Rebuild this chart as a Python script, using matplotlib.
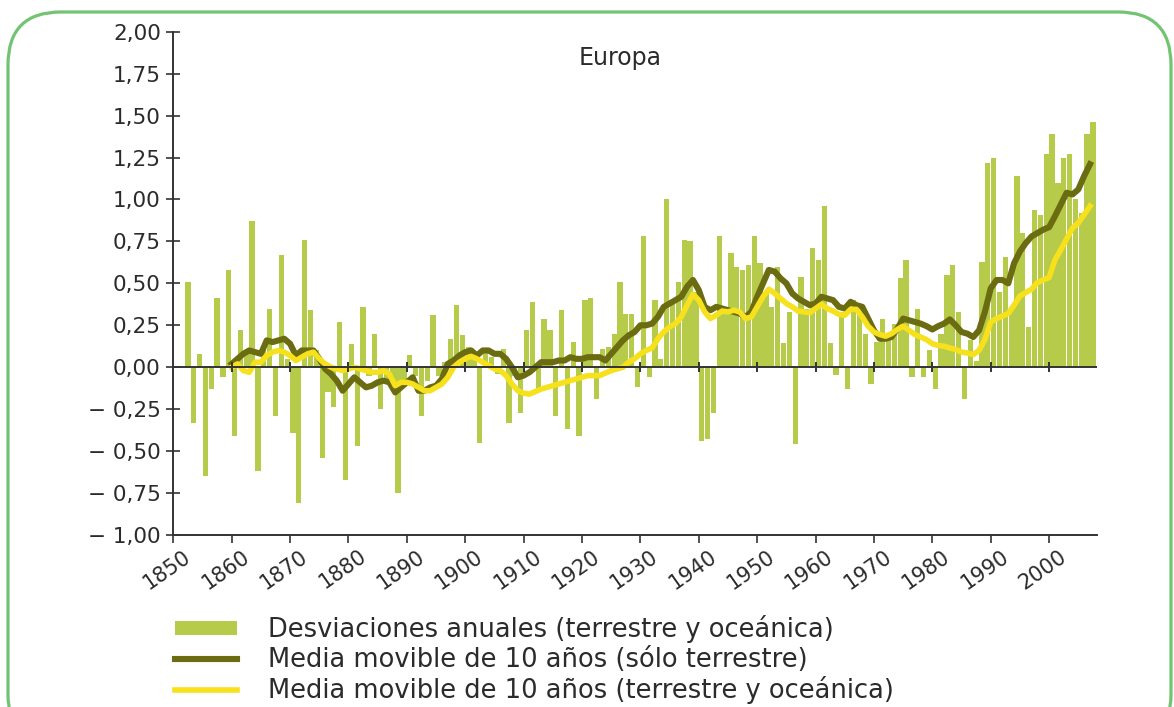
import numpy as np
import matplotlib
matplotlib.use("Agg")
import matplotlib.pyplot as plt
from matplotlib.patches import Patch, FancyBboxPatch
from matplotlib.lines import Line2D
from matplotlib.transforms import ScaledTranslation

# annual deviations (land + ocean), 1852-2007
bar_start = 1852
bar_values = [
    0.51, -0.33, 0.08, -0.65, -0.13, 0.41, -0.06, 0.58,                    # 1852-1859
    -0.41, 0.22, 0.08, 0.87, -0.62, 0.10, 0.35, -0.29, 0.67, 0.05,         # 1860s
    -0.39, -0.81, 0.76, 0.34, 0.10, -0.54, -0.15, -0.24, 0.27, -0.67,      # 1870s
    0.14, -0.47, 0.36, -0.05, 0.20, -0.25, -0.08, -0.12, -0.75, -0.10,     # 1880s
    0.07, -0.05, -0.29, -0.08, 0.31, -0.05, 0.03, 0.17, 0.37, 0.19,        # 1890s
    0.12, 0.05, -0.45, 0.10, 0.06, -0.04, 0.11, -0.33, -0.05, -0.27,       # 1900s
    0.22, 0.39, -0.13, 0.29, 0.22, -0.29, 0.34, -0.37, 0.15, -0.41,        # 1910s
    0.40, 0.41, -0.19, 0.11, 0.12, 0.20, 0.51, 0.32, 0.32, -0.12,          # 1920s
    0.78, -0.06, 0.40, 0.05, 1.00, 0.39, 0.51, 0.76, 0.75, 0.45,           # 1930s
    -0.44, -0.43, -0.27, 0.78, 0.35, 0.68, 0.60, 0.58, 0.61, 0.78,         # 1940s
    0.62, 0.45, 0.36, 0.60, 0.145, 0.33, -0.46, 0.54, 0.35, 0.71,          # 1950s
    0.64, 0.96, 0.145, -0.045, 0.33, -0.13, 0.40, 0.33, 0.20, -0.10,       # 1960s
    0.15, 0.29, 0.20, 0.26, 0.53, 0.64, -0.06, 0.35, -0.06, 0.10,          # 1970s
    -0.13, 0.20, 0.55, 0.61, 0.33, -0.19, 0.16, 0.04, 0.63, 1.22,          # 1980s
    1.25, 0.45, 0.66, 0.35, 1.14, 0.80, 0.24, 0.94, 0.91, 1.27,            # 1990s
    1.39, 1.10, 1.25, 1.27, 1.00, 0.92, 1.39, 1.46,                        # 2000-2007
]

# 10-year moving averages, 1860-2007
line_start = 1860
land_only = [
    0.02, 0.05, 0.08, 0.10, 0.09, 0.08, 0.16, 0.15, 0.16, 0.17,
    0.14, 0.07, 0.10, 0.10, 0.10, 0.05, -0.01, -0.04, -0.08, -0.14,
    -0.10, -0.06, -0.09, -0.12, -0.11, -0.09, -0.08, -0.09, -0.15, -0.12,
    -0.09, -0.06, -0.14, -0.14, -0.12, -0.11, -0.07, 0.02, 0.04, 0.07,
    0.09, 0.10, 0.07, 0.10, 0.10, 0.08, 0.08, 0.05, 0.00, -0.06,
    -0.05, -0.03, 0.00, 0.03, 0.03, 0.03, 0.04, 0.04, 0.06, 0.05,
    0.05, 0.06, 0.06, 0.06, 0.04, 0.08, 0.12, 0.16, 0.19, 0.21,
    0.25, 0.25, 0.26, 0.30, 0.36, 0.38, 0.40, 0.42, 0.48, 0.52,
    0.46, 0.36, 0.34, 0.36, 0.35, 0.34, 0.33, 0.32, 0.30, 0.33,
    0.42, 0.50, 0.58, 0.57, 0.53, 0.50, 0.44, 0.41, 0.39, 0.37,
    0.38, 0.42, 0.41, 0.40, 0.36, 0.35, 0.39, 0.37, 0.36, 0.29,
    0.22, 0.17, 0.17, 0.18, 0.23, 0.29, 0.28, 0.27, 0.26, 0.245,
    0.225, 0.245, 0.26, 0.285, 0.25, 0.21, 0.20, 0.18, 0.22, 0.33,
    0.47, 0.52, 0.52, 0.50, 0.62, 0.69, 0.74, 0.78, 0.80, 0.82,
    0.835, 0.90, 0.97, 1.04, 1.03, 1.06, 1.14, 1.21,
]
land_ocean = [
    0.00, 0.02, -0.02, -0.03, 0.03, 0.03, 0.07, 0.09, 0.10, 0.09,
    0.07, 0.04, 0.06, 0.08, 0.09, 0.05, 0.02, 0.00, -0.01, -0.02,
    -0.01, 0.00, -0.01, -0.02, -0.03, -0.03, -0.02, -0.04, -0.11, -0.09,
    -0.09, -0.10, -0.12, -0.14, -0.14, -0.12, -0.10, -0.06, 0.00, 0.03,
    0.05, 0.065, 0.05, 0.03, 0.01, -0.01, -0.02, -0.05, -0.10, -0.14,
    -0.155, -0.16, -0.145, -0.13, -0.12, -0.11, -0.10, -0.09, -0.08, -0.07,
    -0.06, -0.05, -0.05, -0.05, -0.035, -0.02, -0.01, 0.00, 0.03, 0.05,
    0.08, 0.10, 0.115, 0.17, 0.21, 0.24, 0.26, 0.30, 0.37, 0.435,
    0.40, 0.33, 0.29, 0.31, 0.335, 0.33, 0.34, 0.33, 0.29, 0.30,
    0.36, 0.42, 0.465, 0.44, 0.41, 0.38, 0.36, 0.335, 0.33, 0.325,
    0.35, 0.375, 0.35, 0.335, 0.315, 0.31, 0.345, 0.345, 0.30, 0.245,
    0.21, 0.195, 0.185, 0.20, 0.225, 0.245, 0.22, 0.195, 0.18, 0.165,
    0.14, 0.13, 0.125, 0.115, 0.105, 0.09, 0.085, 0.075, 0.10, 0.165,
    0.27, 0.29, 0.305, 0.32, 0.37, 0.425, 0.445, 0.465, 0.505, 0.52,
    0.535, 0.64, 0.70, 0.765, 0.83, 0.86, 0.91, 0.96,
]

decades = list(range(1850, 2001, 10))
y_ticks = [-1.0, -0.75, -0.5, -0.25, 0.0, 0.25, 0.5, 0.75, 1.0, 1.25, 1.5, 1.75, 2.0]
y_tick_labels = ['\u2212 1,00', '\u2212 0,75', '\u2212 0,50', '\u2212 0,25', '0,00',
                 '0,25', '0,50', '0,75', '1,00', '1,25', '1,50', '1,75', '2,00']
legend_labels = [
    'Desviaciones anuales (terrestre y oceánica)',
    'Media movible de 10 años (sólo terrestre)',
    'Media movible de 10 años (terrestre y oceánica)',
]

BAR_COLOR = '#b7cb4a'
DARK_COLOR = '#6b6b12'
YELLOW_COLOR = '#f7e01c'
AXIS_COLOR = '#333333'
TEXT_COLOR = '#2b2b2b'

W, H = 1174, 707
fig = plt.figure(figsize=(W / 100, H / 100), dpi=100)
fig.patch.set_facecolor('white')

# rounded green frame around the whole chart
frame = FancyBboxPatch(
    (8 / W, -40 / H), 1163 / W, (H - 12 + 40) / H,
    boxstyle='round,pad=0,rounding_size=0.045',
    transform=fig.transFigure, fill=False,
    edgecolor='#72c472', linewidth=2.3, mutation_aspect=W / H,
)
fig.patches.append(frame)

ax = fig.add_axes([173.3 / W, 1 - 535 / H, (1097 - 173.3) / W, (535 - 31.7) / H])

bar_years = np.arange(bar_start, bar_start + len(bar_values))
ax.bar(bar_years + 0.5, bar_values, width=0.9, color=BAR_COLOR, zorder=2)

line_years = np.arange(line_start, line_start + len(land_only))
ax.plot(line_years, land_only, color=DARK_COLOR, lw=4.4, zorder=3,
        solid_joinstyle='round')
ax.plot(line_years, land_ocean, color=YELLOW_COLOR, lw=4.0, zorder=4,
        solid_joinstyle='round')

# zero line with small decade marks
ax.axhline(0, color=AXIS_COLOR, lw=1.4, zorder=5)
ax.plot(decades[1:], [0] * len(decades[1:]), ls='none', marker='|',
        ms=7, mew=1.4, color=AXIS_COLOR, zorder=5)

ax.set_xlim(1850, 2008.2)
ax.set_ylim(-1.0, 2.0)
for side in ('top', 'right'):
    ax.spines[side].set_visible(False)
for side in ('left', 'bottom'):
    ax.spines[side].set_color(AXIS_COLOR)
    ax.spines[side].set_linewidth(1.4)

ax.set_yticks(y_ticks)
ax.set_yticklabels(y_tick_labels)
ax.tick_params(axis='y', direction='inout', length=10, width=1.2,
               color=AXIS_COLOR, labelsize=15.5, labelcolor=TEXT_COLOR, pad=4)

ax.set_xticks(decades)
ax.set_xticklabels([str(d) for d in decades])
ax.tick_params(axis='x', direction='out', length=6, width=1.2,
               color=AXIS_COLOR, labelsize=15, labelcolor=TEXT_COLOR, pad=2)
shift = ScaledTranslation(10 / 100, 0, fig.dpi_scale_trans)
for lbl in ax.get_xticklabels():
    lbl.set_rotation(35)
    lbl.set_ha('right')
    lbl.set_va('top')
    lbl.set_rotation_mode('anchor')
    lbl.set_transform(lbl.get_transform() + shift)

ax.text(0.484, 0.948, 'Europa', transform=ax.transAxes, ha='center', va='center',
        fontsize=17, color=TEXT_COLOR)

handles = [
    Patch(facecolor=BAR_COLOR, edgecolor='none'),
    Line2D([], [], color=DARK_COLOR, lw=4.4),
    Line2D([], [], color=YELLOW_COLOR, lw=4.0),
]
leg = fig.legend(handles, legend_labels, loc='upper left',
                 bbox_to_anchor=(165 / W, 1 - 605 / H), frameon=False,
                 fontsize=18.5, handlelength=2.4, handleheight=0.5,
                 handletextpad=1.2, labelspacing=0.14, borderaxespad=0)
for t in leg.get_texts():
    t.set_color(TEXT_COLOR)

fig.savefig('out.png', dpi=100, facecolor='white')
